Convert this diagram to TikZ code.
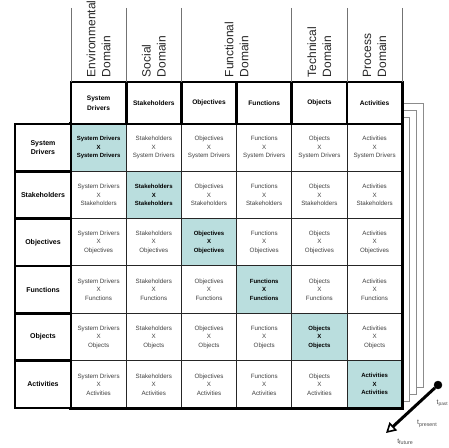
\documentclass[tikz,border=0pt]{standalone}
\usepackage{fontspec}
\setmainfont{Liberation Sans}
\usetikzlibrary{arrows.meta}
\definecolor{teal1}{RGB}{186,222,222}
\begin{document}
\begin{tikzpicture}[x=1bp,y=-1bp,
  thickln/.style={line width=2.8bp, draw=black},
  cellbox/.style={draw=black!85, fill=white, line width=1bp, minimum width=55.2bp, minimum height=47.33bp, inner sep=0, align=center, text=black!75, font=\fontsize{6.2bp}{8.5bp}\selectfont},
  diagbox/.style={cellbox, fill=teal1, text=black, font=\bfseries\fontsize{6bp}{8.5bp}\selectfont},
  hdrbox/.style={draw=black, line width=2.8bp, fill=white, minimum width=55.2bp, minimum height=42bp, inner sep=0, align=center, font=\bfseries\fontsize{6.6bp}{9.5bp}\selectfont},
  rowbox/.style={draw=black, line width=2.8bp, fill=white, minimum width=56bp, minimum height=47.33bp, inner sep=0, align=center, font=\bfseries\fontsize{7bp}{9.5bp}\selectfont},
  layer/.style={draw=black!45, line width=0.8bp, fill=white},
  domln/.style={draw=black!55, line width=1bp},
  domlab/.style={rotate=90, anchor=west, inner sep=0, align=left, font=\fontsize{12bp}{15bp}\selectfont, text=black!85},
  tlab/.style={inner sep=0, text=black!70, font=\fontsize{7bp}{8bp}\selectfont},
  tsub/.style={}
]
\useasboundingbox (0,0) rectangle (449,448);
\clip (0,0) rectangle (449,448);

% stacked layers behind the matrix
\foreach \d in {21,14,7}{
  \draw[layer] (71+\d,124-\d) rectangle (402.2+\d,408-\d);
}

% matrix cells
\foreach \rn [count=\i] in {System Drivers,Stakeholders,Objectives,Functions,Objects,Activities}{
  \foreach \cn [count=\j] in {System Drivers,Stakeholders,Objectives,Functions,Objects,Activities}{
    \ifnum\i=\j
      \node[diagbox] (c-\i-\j) at (71+55.2*\j-27.6,124+47.33*\i-23.665) {\cn\\X\\\rn};
    \else
      \node[cellbox] (c-\i-\j) at (71+55.2*\j-27.6,124+47.33*\i-23.665) {\cn\\X\\\rn};
    \fi
  }
}
\draw[thickln] (c-1-1.north west) rectangle (c-6-6.south east);

% header cells
\foreach \hn [count=\j] in {{System\\Drivers},Stakeholders,Objectives,Functions,Objects,Activities}{
  \node[hdrbox] (h-\j) at (71+55.2*\j-27.6,103) {\hn};
}

% row labels
\foreach \rn [count=\i] in {{System\\Drivers},Stakeholders,Objectives,Functions,Objects,Activities}{
  \node[rowbox] (r-\i) at (43,124+47.33*\i-23.665) {\rn};
}

% domain separators
\foreach \x [count=\k] in {71,126.2,181.4,291.8,347,402.2}{
  \coordinate (dt-\k) at (\x,8);
  \coordinate (db-\k) at (\x,82);
  \draw[domln] (dt-\k) -- (db-\k);
}

% domain labels
\node[domlab] (d-env) at (98.6,77.5) {Environmental\\Domain};
\node[domlab] (d-soc) at (153.8,77.5) {Social\\Domain};
\node[domlab] (d-fun) at (236.6,77.5) {Functional\\Domain};
\node[domlab] (d-tec) at (319.4,77.5) {Technical\\Domain};
\node[domlab] (d-pro) at (374.6,77.5) {Process\\Domain};

% time arrow
\node[circle, fill=black, draw=black, minimum size=8bp, inner sep=0] (tpast) at (438,385) {};
\coordinate (tfut) at (386,433);
\draw[line width=3bp, -{Triangle[length=10bp, width=11bp, line width=1.6bp, fill=white]}] (tpast) -- (tfut);

\node[tlab, anchor=west] (lp) at (436.5,403) {t\raisebox{-1.5bp}{\fontsize{4.8bp}{5bp}\selectfont past}};
\node[tlab] (lpr) at (427,424) {t\raisebox{-1.5bp}{\fontsize{5.3bp}{6bp}\selectfont present}};
\node[tlab] (lf) at (405,442) {t\raisebox{-1.5bp}{\fontsize{5.3bp}{6bp}\selectfont future}};
\end{tikzpicture}
\end{document}
